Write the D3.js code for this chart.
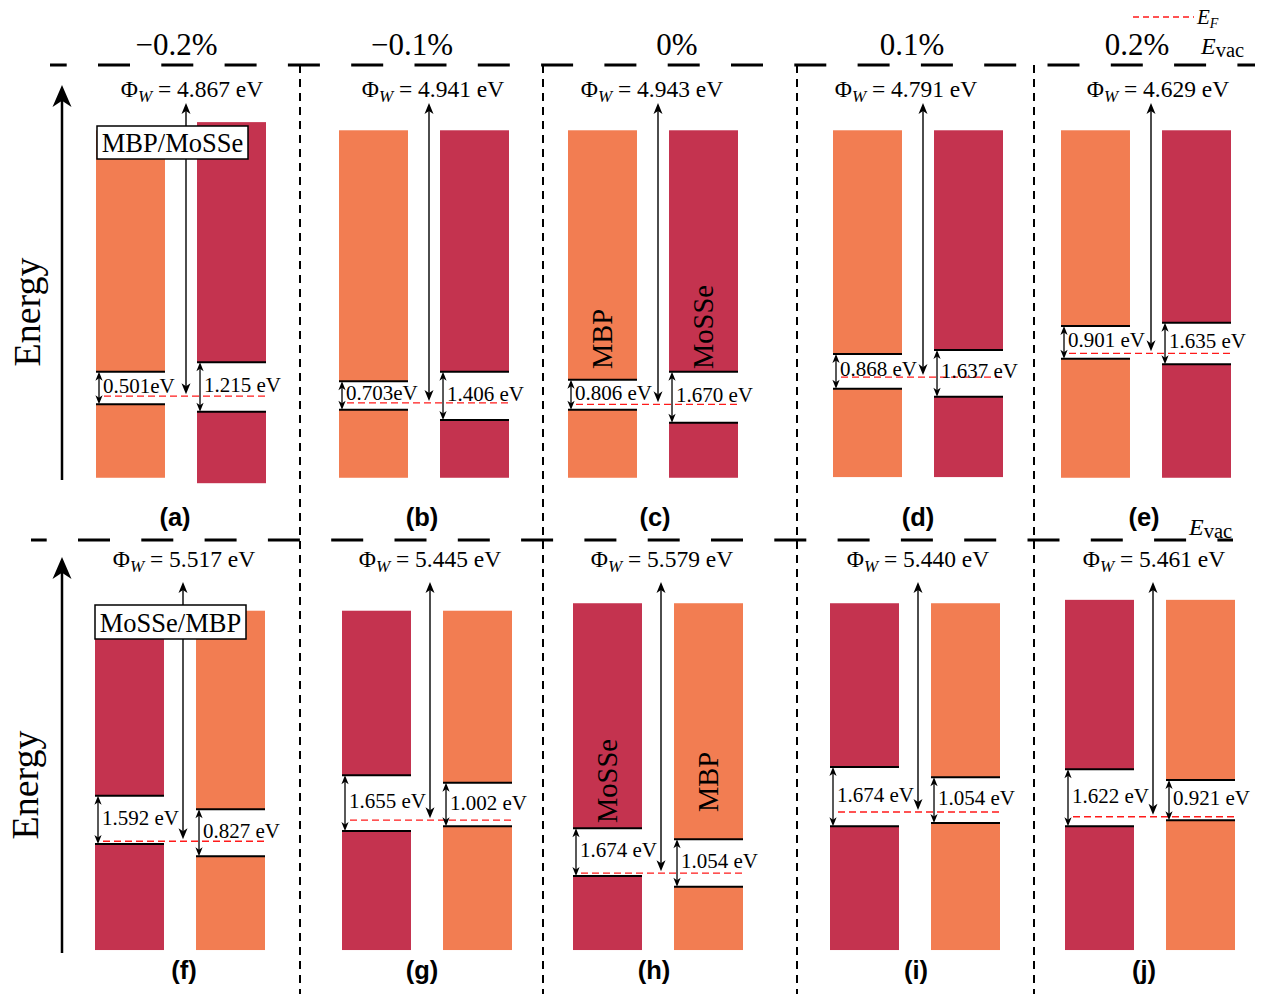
<!DOCTYPE html>
<html>
<head>
<meta charset="utf-8">
<script src="https://cdn.jsdelivr.net/npm/d3@7"></script>
<style>
  html, body { margin: 0; background: #fff; }
  svg { display: block; }
</style>
</head>
<body>
<svg id="chart" width="1271" height="994"></svg>
<script>
// ---- strain columns and panel tags ----
const strains = ["\u22120.2%", "\u22120.1%", "0%", "0.1%", "0.2%"];
const tagsTop = ["(a)", "(b)", "(c)", "(d)", "(e)"];
const tagsBottom = ["(f)", "(g)", "(h)", "(i)", "(j)"];

// ---- work functions (eV) ----
const phiTop = [4.867, 4.941, 4.943, 4.791, 4.629];      // MBP/MoSSe
const phiBottom = [5.517, 5.445, 5.579, 5.440, 5.461];   // MoSSe/MBP

// ---- band gaps (eV) ----
const gapMBPTop = [0.501, 0.703, 0.806, 0.868, 0.901];
const gapMoSSeTop = [1.215, 1.406, 1.670, 1.637, 1.635];
const gapMoSSeBottom = [1.592, 1.655, 1.674, 1.674, 1.622];
const gapMBPBottom = [0.827, 1.002, 1.054, 1.054, 0.921];

// ---- schematic band levels, eV relative to the vacuum level ----
// MBP/MoSSe row
const efTop = [-4.87, -4.97, -4.99, -4.59, -4.24];
const mbpTopUpper = [-0.96, -0.96, -0.96, -0.96, -0.96];
const mbpTopCBM = [-4.51, -4.65, -4.63, -4.25, -3.84];
const mbpTopVBM = [-4.99, -5.07, -5.07, -4.76, -4.32];
const mbpTopLower = [-6.07, -6.07, -6.07, -6.06, -6.07];
const mosseTopUpper = [-0.84, -0.96, -0.96, -0.96, -0.96];
const mosseTopCBM = [-4.37, -4.51, -4.51, -4.19, -3.79];
const mosseTopVBM = [-5.10, -5.22, -5.26, -4.88, -4.40];
const mosseTopLower = [-6.15, -6.07, -6.07, -6.06, -6.07];
// MoSSe/MBP row
const efBottom = [-4.43, -4.12, -4.90, -4.00, -4.07];
const mosseBotUpper = [-1.04, -1.04, -0.93, -0.93, -0.88];
const mosseBotCBM = [-3.76, -3.46, -4.24, -3.34, -3.37];
const mosseBotVBM = [-4.47, -4.28, -4.94, -4.21, -4.21];
const mosseBotLower = [-6.03, -6.03, -6.03, -6.03, -6.03];
const mbpBotUpper = [-1.04, -1.04, -0.93, -0.93, -0.88];
const mbpBotCBM = [-3.96, -3.57, -4.40, -3.49, -3.53];
const mbpBotVBM = [-4.65, -4.21, -5.10, -4.16, -4.12];
const mbpBotLower = [-6.03, -6.03, -6.03, -6.03, -6.03];

// ---- styling / layout ----
const SERIF = "'Liberation Serif','Times New Roman',Times,serif";
const SANS = "'Liberation Sans',Arial,Helvetica,sans-serif";
const C_MBP = "#f27d52";
const C_MOSSE = "#c4334f";
const C_EF = "#ff1a1a";
const fmt = d3.format(".3f");

const svg = d3.select("#chart");

const rows = [
  {
    y: d3.scaleLinear().domain([0, -1]).range([65, 133]),
    x0: [96, 339, 568, 833, 1061],
    evac: [50, 1255], dashPhase: 15.3,
    phi: phiTop, ef: efTop, tags: tagsTop, tagY: 526, tagDx: [-6, -2, 2, 0, -2],
    phiY: 97, phiTip: 103, phiArrowDx: 5, phiTextDx: [6, 4, -6, -17, 7],
    energyArrow: [480, 85], energyLabel: [40, 312],
    box: { text: "MBP/MoSSe", x: 97, y: 126, w: 151, h: 33 },
    left:  { name: "MBP",   color: C_MBP,   upper: mbpTopUpper,   cbm: mbpTopCBM,   vbm: mbpTopVBM,   lower: mbpTopLower,   gap: gapMBPTop,   sep: ["", "", " ", " ", " "] },
    right: { name: "MoSSe", color: C_MOSSE, upper: mosseTopUpper, cbm: mosseTopCBM, vbm: mosseTopVBM, lower: mosseTopLower, gap: gapMoSSeTop, sep: [" ", " ", " ", " ", " "] },
    nameCol: 2, nameY: { left: 339, right: 327 }
  },
  {
    y: d3.scaleLinear().domain([0, -1]).range([540, 608]),
    x0: [95, 342, 573, 830, 1065],
    evac: [31, 1233], dashPhase: 16.3,
    phi: phiBottom, ef: efBottom, tags: tagsBottom, tagY: 979, tagDx: [4, -5, -4, 1, -6],
    phiY: 567, phiTip: 582, phiArrowDx: 3, phiTextDx: [1, 0, 1, 0, 1],
    energyArrow: [953, 557], energyLabel: [38, 785],
    box: { text: "MoSSe/MBP", x: 95, y: 605, w: 151, h: 34 },
    left:  { name: "MoSSe", color: C_MOSSE, upper: mosseBotUpper, cbm: mosseBotCBM, vbm: mosseBotVBM, lower: mosseBotLower, gap: gapMoSSeBottom, sep: [" ", " ", " ", " ", " "] },
    right: { name: "MBP",   color: C_MBP,   upper: mbpBotUpper,   cbm: mbpBotCBM,   vbm: mbpBotVBM,   lower: mbpBotLower,   gap: gapMBPBottom,   sep: [" ", " ", " ", " ", " "] },
    nameCol: 2, nameY: { left: 781, right: 782 }
  }
];

const PANEL_W = 170;
const separatorsX = [300, 543, 797, 1034];
const headerX = [176.5, 412, 677, 912, 1137];

// arrowhead: tip at (x, y); dir = -1 points up, +1 points down
function head(g, x, y, dir, len, hw) {
  const b = y - dir * len, n = y - dir * len * 0.72;
  g.append("path")
    .attr("d", `M${x},${y}L${x - hw},${b}L${x},${n}L${x + hw},${b}Z`)
    .attr("fill", "#000");
}

const gBars = svg.append("g");
const gLines = svg.append("g");
const gMarks = svg.append("g");
const gText = svg.append("g");

// panel separators
svg.insert("g", ":first-child").selectAll("line")
  .data(separatorsX).join("line")
  .attr("x1", d => d).attr("x2", d => d)
  .attr("y1", 65).attr("y2", 994)
  .attr("stroke", "#000").attr("stroke-width", 2)
  .attr("stroke-dasharray", "8,6");

// strain headers
gText.selectAll("text.strain")
  .data(strains).join("text")
  .attr("class", "strain")
  .attr("x", (d, i) => headerX[i]).attr("y", 55)
  .attr("text-anchor", "middle")
  .style("font-family", SERIF).style("font-size", "31px")
  .text(d => d);

rows.forEach((row, r) => {
  const y = row.y;

  // vacuum level
  gLines.append("line")
    .attr("x1", row.evac[0]).attr("x2", row.evac[1])
    .attr("y1", y(0)).attr("y2", y(0))
    .attr("stroke", "#000").attr("stroke-width", 3)
    .attr("stroke-dasharray", "32,31.3")
    .attr("stroke-dashoffset", row.dashPhase);

  // energy axis
  gMarks.append("line")
    .attr("x1", 62).attr("x2", 62)
    .attr("y1", row.energyArrow[0]).attr("y2", row.energyArrow[1] + 14)
    .attr("stroke", "#000").attr("stroke-width", 2.5);
  head(gMarks, 62, row.energyArrow[1], -1, 22, 9.5);
  gText.append("text")
    .attr("transform", `translate(${row.energyLabel[0]},${row.energyLabel[1]}) rotate(-90)`)
    .attr("text-anchor", "middle")
    .style("font-family", SERIF).style("font-size", "38px")
    .text("Energy");

  row.x0.forEach((x0, i) => {
    const xb = d3.scaleBand().domain(["left", "right"])
      .range([x0, x0 + PANEL_W]).paddingInner(0.317);
    const bw = xb.bandwidth();
    const cx = x0 + PANEL_W / 2;

    ["left", "right"].forEach(side => {
      const m = row[side];
      const xs = xb(side);
      // conduction-band block
      gBars.append("rect")
        .attr("x", xs).attr("width", bw)
        .attr("y", y(m.upper[i])).attr("height", y(m.cbm[i]) - y(m.upper[i]))
        .attr("fill", m.color);
      // valence-band block
      gBars.append("rect")
        .attr("x", xs).attr("width", bw)
        .attr("y", y(m.vbm[i])).attr("height", y(m.lower[i]) - y(m.vbm[i]))
        .attr("fill", m.color);
      // band edges
      [m.cbm[i], m.vbm[i]].forEach(e => {
        gLines.append("line")
          .attr("x1", xs).attr("x2", xs + bw)
          .attr("y1", y(e)).attr("y2", y(e))
          .attr("stroke", "#000").attr("stroke-width", 2);
      });
      // gap arrow
      const ax = xs + 3, y1 = y(m.cbm[i]), y2 = y(m.vbm[i]);
      gMarks.append("line")
        .attr("x1", ax).attr("x2", ax)
        .attr("y1", y1 + 6).attr("y2", y2 - 6)
        .attr("stroke", "#000").attr("stroke-width", 1.3);
      head(gMarks, ax, y1, -1, 9, 3.6);
      head(gMarks, ax, y2, 1, 9, 3.6);
      gText.append("text")
        .attr("x", ax + 4).attr("y", (y1 + y2) / 2 + 5)
        .style("font-family", SERIF).style("font-size", "21px")
        .text(fmt(m.gap[i]) + m.sep[i] + "eV");
    });

    // Fermi level
    gLines.append("line")
      .attr("x1", xb("left") + 8).attr("x2", xb("right") + bw)
      .attr("y1", y(row.ef[i])).attr("y2", y(row.ef[i]))
      .attr("stroke", C_EF).attr("stroke-width", 1.3)
      .attr("stroke-dasharray", "7,4");

    // work-function arrow (vacuum level -> Fermi level)
    const px = cx + row.phiArrowDx;
    const tipB = y(row.ef[i]) - 2;
    gMarks.append("line")
      .attr("x1", px).attr("x2", px)
      .attr("y1", row.phiTip + 8).attr("y2", tipB - 8)
      .attr("stroke", "#000").attr("stroke-width", 1.4);
    head(gMarks, px, row.phiTip, -1, 11, 4.5);
    head(gMarks, px, tipB, 1, 11, 4.5);

    const t = gText.append("text")
      .attr("x", px + row.phiTextDx[i]).attr("y", row.phiY)
      .attr("text-anchor", "middle")
      .style("font-family", SERIF).style("font-size", "23.5px");
    t.append("tspan").text("\u03A6");
    t.append("tspan").attr("dy", 5).style("font-style", "italic").style("font-size", "17px").text("W");
    t.append("tspan").attr("dy", -5).text(" = " + fmt(row.phi[i]) + " eV");

    // panel tag
    gText.append("text")
      .attr("x", cx + row.tagDx[i]).attr("y", row.tagY)
      .attr("text-anchor", "middle")
      .style("font-family", SANS).style("font-weight", "bold").style("font-size", "25.5px")
      .text(row.tags[i]);

    // material names inside the bars
    if (i === row.nameCol) {
      ["left", "right"].forEach(side => {
        gText.append("text")
          .attr("transform", `translate(${xb(side) + bw / 2 + 9.5},${row.nameY[side]}) rotate(-90)`)
          .attr("text-anchor", "middle")
          .style("font-family", SERIF).style("font-size", "28.5px")
          .text(row[side].name);
      });
    }
  });

  // heterostructure label box
  const b = row.box;
  gText.append("rect")
    .attr("x", b.x).attr("y", b.y).attr("width", b.w).attr("height", b.h)
    .attr("fill", "#fff").attr("stroke", "#000").attr("stroke-width", 1.5);
  gText.append("text")
    .attr("x", b.x + b.w / 2).attr("y", b.y + b.h - 7)
    .attr("text-anchor", "middle")
    .style("font-family", SERIF).style("font-size", "26.5px")
    .text(b.text);
});

// vacuum-level labels
function evacLabel(x, yb) {
  const t = gText.append("text").attr("x", x).attr("y", yb)
    .style("font-family", SERIF).style("font-size", "24px");
  t.append("tspan").style("font-style", "italic").text("E");
  t.append("tspan").attr("dy", 3).style("font-size", "20.5px").text("vac");
}
evacLabel(1201, 54);
evacLabel(1189, 535);

// legend: Fermi level
svg.append("line")
  .attr("x1", 1133).attr("x2", 1194).attr("y1", 17).attr("y2", 17)
  .attr("stroke", C_EF).attr("stroke-width", 1.3).attr("stroke-dasharray", "6,4");
const lf = gText.append("text").attr("x", 1197).attr("y", 24)
  .style("font-family", SERIF).style("font-size", "21px");
lf.append("tspan").style("font-style", "italic").text("E");
lf.append("tspan").attr("dy", 4).style("font-style", "italic").style("font-size", "14px").text("F");
</script>
</body>
</html>
